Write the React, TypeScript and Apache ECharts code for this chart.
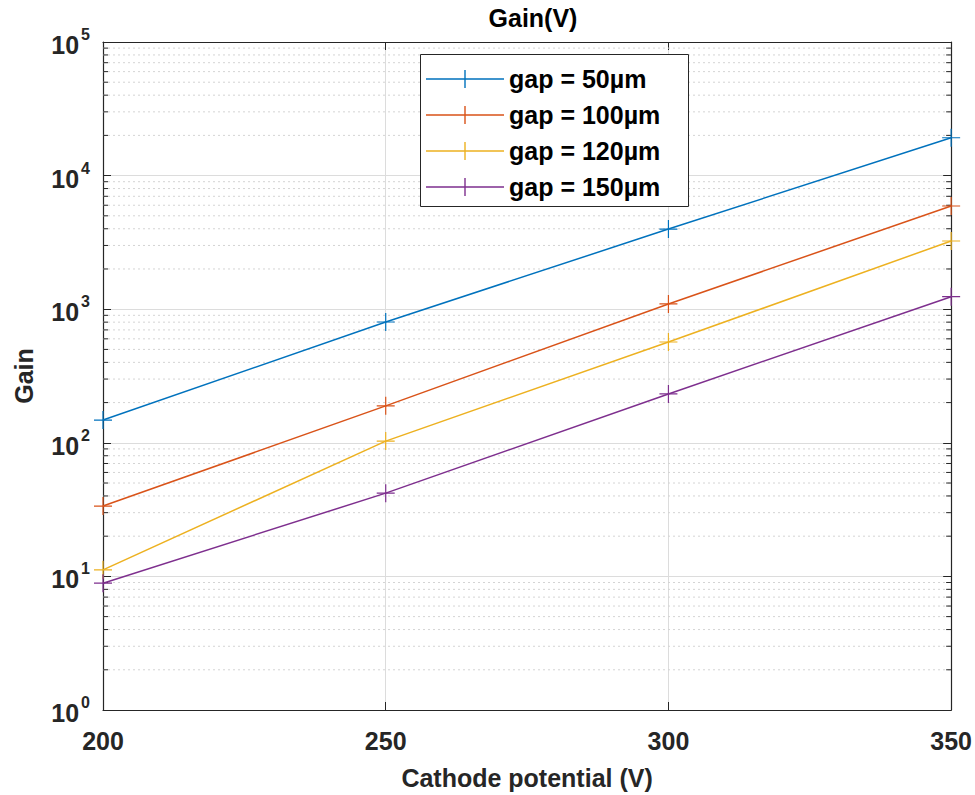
import React, { useEffect, useRef } from "react";
import * as echarts from "echarts";

const potentials = [200, 250, 300, 350];
const gap50 = [148, 802, 3980, 19200];
const gap100 = [33.6, 189, 1095, 5920];
const gap120 = [11.2, 103, 568, 3240];
const gap150 = [8.9, 42, 232, 1241];
const seriesNames = ["gap = 50µm", "gap = 100µm", "gap = 120µm", "gap = 150µm"];
const seriesColors = ["#0072BD", "#D95319", "#EDB120", "#7E2F8E"];
const minorValues: number[] = [];
for (let d = 0; d < 5; d++) {
  for (let m = 2; m <= 9; m++) minorValues.push(m * Math.pow(10, d));
}

const FONT = "'Liberation Sans', Arial, Helvetica, sans-serif";
const TXT = "#262626";
const FS = 25;
const CROSS = "path://M8.4,0 L9.6,0 L9.6,18 L8.4,18 Z M0,8.4 L18,8.4 L18,9.6 L0,9.6 Z";
const LEG_ICON = "path://M0,8.3 L78,8.3 L78,9.7 L0,9.7 Z M38.3,0 L39.7,0 L39.7,18 L38.3,18 Z";

export default function App() {
  const ref = useRef<HTMLDivElement>(null);
  useEffect(() => {
    if (!ref.current) return;
    const chart = echarts.init(ref.current, null, { renderer: "svg" });
    const all = [gap50, gap100, gap120, gap150];
    const lineSeries = all.map((vals, i) => ({
      name: seriesNames[i],
      type: "line",
      data: potentials.map((p, j) => [p, vals[j]]),
      symbol: CROSS,
      symbolSize: 18,
      showAllSymbol: true,
      clip: false,
      lineStyle: { color: seriesColors[i], width: 1.5 },
      itemStyle: { color: seriesColors[i] },
      z: 2,
    }));
    const minorSeries = {
      type: "custom",
      silent: true,
      data: minorValues.map((v) => [200, v]),
      encode: { x: 0, y: 1 },
      z: 1,
      renderItem: (params: any, api: any) => {
        const cs = params.coordSys;
        const y = api.coord([200, api.value(1)])[1];
        return {
          type: "group",
          children: [
            {
              type: "line",
              shape: { x1: cs.x, y1: y, x2: cs.x + cs.width, y2: y },
              style: { stroke: "#d4d4d4", lineWidth: 1, lineDash: [2, 3] },
            },
            {
              type: "line",
              shape: { x1: cs.x, y1: y, x2: cs.x + 5, y2: y },
              style: { stroke: TXT, lineWidth: 1 },
            },
            {
              type: "line",
              shape: { x1: cs.x + cs.width - 5, y1: y, x2: cs.x + cs.width, y2: y },
              style: { stroke: TXT, lineWidth: 1 },
            },
          ],
        };
      },
    };
    const xCommon = {
      type: "value",
      min: 200,
      max: 350,
      interval: 50,
      axisLine: { show: true, lineStyle: { color: TXT, width: 1.2 } },
      axisTick: { show: true, inside: true, length: 8, lineStyle: { color: TXT } },
    };
    const yCommon = {
      type: "log",
      logBase: 10,
      min: 1,
      max: 100000,
      axisLine: { show: true, lineStyle: { color: TXT, width: 1.2 } },
      axisTick: { show: true, inside: true, length: 8, lineStyle: { color: TXT } },
    };
    chart.setOption({
      animation: false,
      backgroundColor: "#fff",
      title: {
        text: "Gain(V)",
        left: 528,
        textAlign: "center",
        top: 0,
        textStyle: { fontFamily: FONT, fontWeight: "bold", fontSize: FS, color: "#000" },
      },
      graphic: [
        {
          type: "rect",
          z: 3,
          shape: { x: 420.5, y: 54.5, width: 268, height: 152 },
          style: { fill: "#fff", stroke: TXT, lineWidth: 1 },
        },
      ],
      grid: { left: 103, right: 21, top: 42, bottom: 85, containLabel: false },
      legend: {
        orient: "vertical",
        left: 420,
        top: 54,
        z: 4,
        padding: [12, 9, 6, 6],
        itemWidth: 78,
        itemHeight: 18,
        itemGap: 10,
        icon: LEG_ICON,
        data: seriesNames,
        textStyle: { fontFamily: FONT, fontWeight: "bold", fontSize: FS, lineHeight: 26, color: "#000" },
      },
      xAxis: [
        {
          ...xCommon,
          position: "bottom",
          name: "Cathode potential (V)",
          nameLocation: "middle",
          nameGap: 55,
          nameTextStyle: { fontFamily: FONT, fontWeight: "bold", fontSize: FS, color: TXT },
          axisLabel: { fontFamily: FONT, fontWeight: "bold", fontSize: FS, color: TXT, margin: 18 },
          splitLine: { show: true, lineStyle: { color: "#dcdcdc", width: 1 } },
        },
        {
          ...xCommon,
          position: "top",
          axisLabel: { show: false },
          splitLine: { show: false },
        },
      ],
      yAxis: [
        {
          ...yCommon,
          position: "left",
          name: "Gain",
          nameLocation: "middle",
          nameGap: 67,
          nameTextStyle: { fontFamily: FONT, fontWeight: "bold", fontSize: FS, color: TXT },
          axisLabel: {
            margin: 13,
            formatter: (v: number) => "{b|10}{s|" + Math.round(Math.log10(v)) + "}",
            rich: {
              b: { fontFamily: FONT, fontWeight: "bold", fontSize: FS, color: TXT, padding: [6, 0, 0, 0] },
              s: { fontFamily: FONT, fontWeight: "bold", fontSize: 16, color: TXT, verticalAlign: "top", padding: [0, 0, 12, 2] },
            },
          },
          splitLine: { show: true, lineStyle: { color: "#dcdcdc", width: 1 } },
        },
        {
          ...yCommon,
          position: "right",
          axisLabel: { show: false },
          splitLine: { show: false },
        },
      ],
      series: [minorSeries, ...lineSeries],
    });
    return () => chart.dispose();
  }, []);
  return <div ref={ref} style={{ position: "absolute", left: 0, top: 0, width: 975, height: 795 }} />;
}
